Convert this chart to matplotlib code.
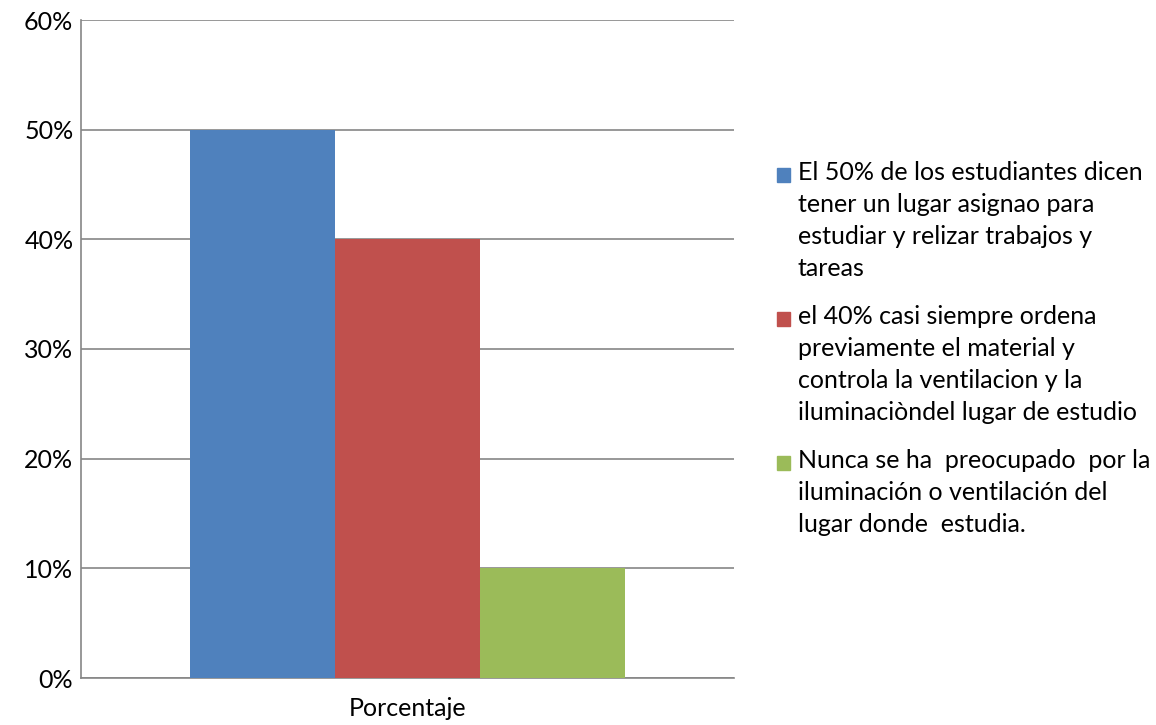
import numpy as np
import matplotlib
matplotlib.use("Agg")
from matplotlib import pyplot as plt
from matplotlib.patches import Rectangle

plt.rcParams['font.family'] = ['Lato', 'DejaVu Sans']

category = "Porcentaje"
values = [50, 40, 10]
labels = [
  "El 50% de los estudiantes dicen\ntener un lugar asignao para\nestudiar y relizar trabajos y\ntareas",
  "el 40% casi siempre ordena\npreviamente el material y\ncontrola la ventilacion y la\niluminaciòndel lugar de estudio",
  "Nunca se ha  preocupado  por la\niluminación o ventilación del\nlugar donde  estudia.",
]
colors = ["#4F81BD", "#C0504D", "#9BBB59"]
yticks = [0, 10, 20, 30, 40, 50, 60]

W, H = 1156, 725
fig = plt.figure(figsize=(W / 100, H / 100), dpi=100)
ax = fig.add_axes([81 / W, 1 - 678 / H, (734 - 81) / W, (678 - 20) / H])

width = 145 / 653
offsets = (np.arange(len(values)) - (len(values) - 1) / 2) * width
for off, v, c in zip(offsets, values, colors):
  ax.bar(off, v, width=width, color=c, zorder=3)

ax.set_xlim(-0.5, 0.5)
ax.set_ylim(0, 60)
ax.set_yticks(yticks)
ax.set_yticklabels([f"{t}%" for t in yticks], fontsize=18)
ax.set_xticks([0])
ax.set_xticklabels([category], fontsize=18)
ax.tick_params(axis='x', length=0, pad=14)
ax.tick_params(axis='y', length=0, pad=5.5)
ax.grid(axis='y', color='#868686', linewidth=1.2, zorder=0)
for s in ['top', 'right']:
  ax.spines[s].set_visible(False)
for s in ['left', 'bottom']:
  ax.spines[s].set_color('#868686')
  ax.spines[s].set_linewidth(1.2)

# legend drawn by hand so the swatch sits on the first line
line_h = 31.8
y = 175
for lab, c in zip(labels, colors):
  fig.patches.append(Rectangle((777 / W, 1 - (y + 7) / H), 13 / W, 14 / H,
                               transform=fig.transFigure, color=c))
  fig.text(798 / W, 1 - (y - 14) / H, lab, fontsize=18, va='top', ha='left',
           linespacing=1.47)
  n = lab.count("\n") + 1
  y += n * line_h + 17

fig.savefig("out.png", dpi=100)
